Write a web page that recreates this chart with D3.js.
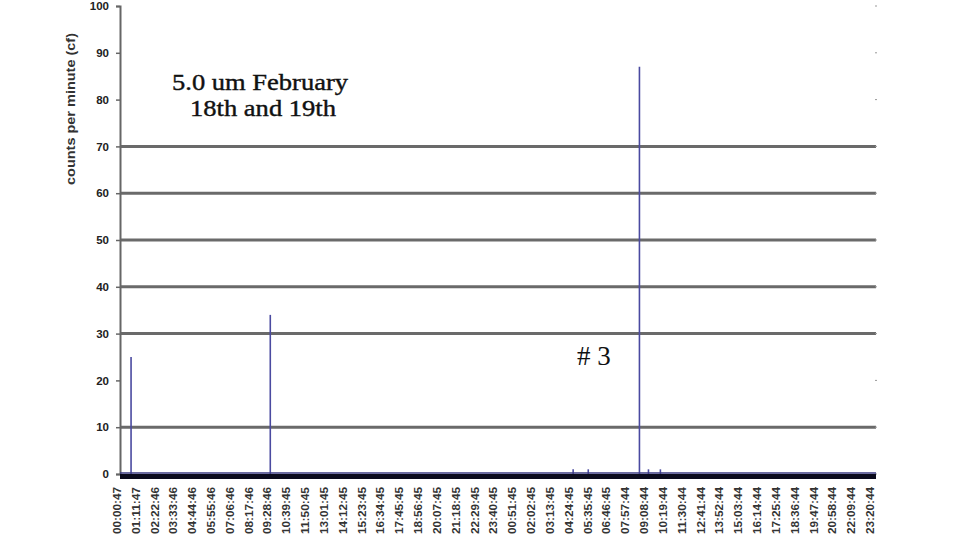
<!DOCTYPE html>
<html><head><meta charset="utf-8">
<script src="https://cdn.jsdelivr.net/npm/d3@7"></script>
<style>body{margin:0;background:#fff}svg{display:block}</style>
</head><body>
<script>
// ---- data ----
const timeLabels = ["00:00:47","01:11:47","02:22:46","03:33:46","04:44:46","05:55:46","07:06:46","08:17:46","09:28:46","10:39:45","11:50:45","13:01:45","14:12:45","15:23:45","16:34:45","17:45:45","18:56:45","20:07:45","21:18:45","22:29:45","23:40:45","00:51:45","02:02:45","03:13:45","04:24:45","05:35:45","06:46:45","07:57:44","09:08:44","10:19:44","11:30:44","12:41:44","13:52:44","15:03:44","16:14:44","17:25:44","18:36:44","19:47:44","20:58:44","22:09:44","23:20:44"];
const labelStepMinutes = 71;
const totalMinutes = 2862;
// spikes: minute offset from 00:00:47 and counts per minute
const spikeMinutes = [53, 578, 1720, 1777, 1970, 2004, 2049];
const spikeValues  = [25, 34, 1, 1, 87, 1, 1];
const yTicks = [0,10,20,30,40,50,60,70,80,90,100];
const gridValues = [10,30,40,50,60,70];

// ---- chart ----
const W = 960, H = 559;
const svg = d3.select("body").append("svg").attr("width", W).attr("height", H);
const x = d3.scaleLinear().domain([0, totalMinutes]).range([117, 876]);
const y = d3.scaleLinear().domain([0, 100]).range([474, 6]);
const left = 120, right = 876;

// gridlines
svg.append("g").selectAll("line").data(gridValues).join("line")
  .attr("x1", left).attr("x2", right)
  .attr("y1", d => y(d)).attr("y2", d => y(d))
  .attr("stroke", "#6a6a6a").attr("stroke-width", 3);

// right small ticks
svg.append("g").selectAll("line").data(yTicks).join("line")
  .attr("x1", right - 1).attr("x2", right + 1)
  .attr("y1", d => y(d)).attr("y2", d => y(d))
  .attr("stroke", "#999").attr("stroke-width", 1);

// left axis
const yAxis = d3.axisLeft(y).tickValues(yTicks).tickSize(4).tickPadding(7).tickFormat(d3.format("d"));
const ya = svg.append("g").attr("transform", `translate(${left},0)`).call(yAxis);
ya.select(".domain").attr("stroke", "#666").attr("stroke-width", 2);
ya.selectAll(".tick line").attr("stroke", "#666").attr("stroke-width", 1.5);
ya.selectAll(".tick text").attr("font-family", "Liberation Sans, Arial, sans-serif")
  .attr("font-weight", "bold").attr("font-size", 11.5).attr("fill", "#222");

// y label
svg.append("text")
  .attr("transform", "translate(75,109) rotate(-90)")
  .attr("text-anchor", "middle")
  .attr("font-family", "Liberation Sans, Arial, sans-serif")
  .attr("font-weight", "bold")
  .attr("font-size", 13).attr("fill", "#333")
  .attr("textLength", 152).attr("lengthAdjust", "spacingAndGlyphs")
  .text("counts per minute (cf)");

// spikes (line series)
const spikeData = spikeMinutes.map((m, i) => ({m, v: spikeValues[i]}));
svg.append("g").selectAll("line").data(spikeData).join("line")
  .attr("x1", d => x(d.m)).attr("x2", d => x(d.m))
  .attr("y1", y(0)).attr("y2", d => y(d.v))
  .attr("stroke", "#4a4aa0").attr("stroke-width", 1.6);

// baseline (zero values) line and thick bottom axis
svg.append("line").attr("x1", left).attr("x2", right)
  .attr("y1", y(0) - 1).attr("y2", y(0) - 1)
  .attr("stroke", "#3a3a80").attr("stroke-width", 1.5);
svg.append("rect").attr("x", left).attr("y", y(0))
  .attr("width", right - left).attr("height", 5).attr("fill", "#0a0a1c");

// x labels
const xa = svg.append("g");
xa.selectAll("text").data(timeLabels).join("text")
  .attr("transform", (d, i) => `translate(${x(i * labelStepMinutes)},${y(0) + 13}) rotate(-90)`)
  .attr("text-anchor", "end").attr("dy", "0.35em")
  .attr("font-family", "Liberation Sans, Arial, sans-serif")
  .attr("font-weight", "bold").attr("font-size", 11).attr("fill", "#333")
  .attr("textLength", 47).attr("lengthAdjust", "spacingAndGlyphs")
  .text(d => d);

// title
const tstyle = s => s.attr("font-family", "Liberation Serif, Times New Roman, serif")
  .attr("font-size", 23).attr("fill", "#111").attr("stroke", "#111").attr("stroke-width", 0.4)
  .attr("lengthAdjust", "spacingAndGlyphs");
svg.append("text").call(tstyle).attr("x", 172).attr("y", 90)
  .attr("textLength", 176).text("5.0 um February");
svg.append("text").call(tstyle).attr("x", 190).attr("y", 116)
  .attr("textLength", 146).text("18th and 19th");

// annotation
svg.append("text").attr("x", 577).attr("y", 365)
  .attr("font-family", "Liberation Serif, Times New Roman, serif")
  .attr("font-size", 27).attr("fill", "#111").text("# 3");
</script>
</body></html>
